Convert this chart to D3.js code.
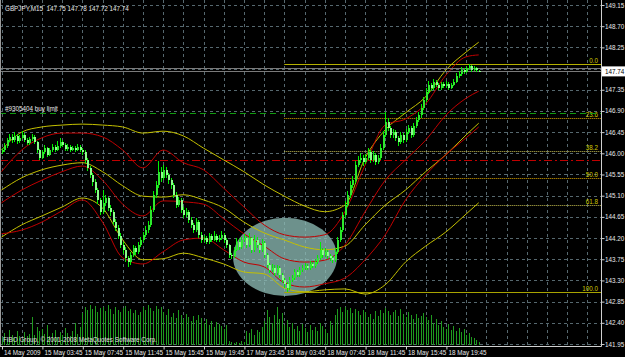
<!DOCTYPE html>
<html><head><meta charset="utf-8">
<script src="https://cdn.jsdelivr.net/npm/d3@7"></script>
<style>
html,body{margin:0;padding:0;background:#000;overflow:hidden;}
svg{display:block;}
text{font-family:"Liberation Sans",Arial,sans-serif;}
</style></head><body>
<svg id="chart" width="625" height="357"></svg>
<script>
// ---------- DATA ----------
const symbolTitle = "GBPJPY,M15  147.75 147.78 147.72 147.74";
const timeIdx = [0,16,32,48,64,80,96,112,128,144,160,176];
const timeLabels = ["14 May 2009","15 May 03:45","15 May 07:45","15 May 11:45","15 May 15:45","15 May 19:45","17 May 23:45","18 May 03:45","18 May 07:45","18 May 11:45","18 May 15:45","18 May 19:45"];
const yTicks = [141.95,142.40,142.85,143.30,143.75,144.20,144.65,145.10,145.55,146.00,146.45,146.90,147.35,147.80,148.25,148.70,149.15];

const open = [
146.03,146.07,146.16,146.28,146.35,146.28,146.37,146.26,146.33,146.39,
146.28,146.22,146.30,146.35,146.24,146.07,145.90,146.03,146.11,145.97,
146.07,146.14,146.07,146.16,146.24,146.18,146.09,146.14,146.07,146.11,
146.07,146.14,146.07,146.03,145.86,145.69,145.54,145.39,145.22,145.01,
144.76,144.95,145.05,144.84,144.76,144.54,144.42,144.25,144.05,143.95,
143.78,143.69,143.84,143.99,143.91,144.05,144.16,144.27,144.37,144.48,
144.80,145.12,145.33,145.61,145.48,145.65,145.54,145.43,145.33,145.12,
144.90,145.01,144.80,144.69,144.76,144.59,144.48,144.37,144.54,144.27,
144.16,144.20,144.12,144.25,144.16,144.25,144.16,144.20,144.27,144.16,
144.05,143.84,143.82,143.95,144.12,144.01,144.16,144.20,144.05,144.20,
143.95,144.16,144.05,143.95,144.10,143.84,143.63,143.52,143.57,143.46,
143.57,143.42,143.31,143.23,143.14,143.31,143.35,143.48,143.42,143.52,
143.57,143.61,143.57,143.65,143.61,143.69,143.78,143.95,143.84,143.91,
143.82,143.78,143.74,143.91,144.16,144.37,144.69,144.90,145.12,145.33,
145.43,145.75,145.86,145.90,145.82,145.90,146.03,145.86,145.97,145.82,
145.90,146.11,146.39,146.67,146.54,146.39,146.45,146.33,146.24,146.39,
146.28,146.45,146.54,146.39,146.58,146.71,146.81,146.96,147.13,147.30,
147.45,147.39,147.52,147.45,147.39,147.47,147.43,147.47,147.39,147.45,
147.52,147.64,147.69,147.77,147.73,147.81,147.85,147.77,147.81,147.75];
const high = [
146.12,146.22,146.33,146.42,146.40,146.45,146.41,146.38,146.47,146.43,
146.32,146.35,146.41,146.39,146.27,146.10,146.08,146.18,146.14,146.12,
146.20,146.18,146.26,146.33,146.29,146.21,146.19,146.17,146.16,146.15,
146.19,146.18,146.12,146.06,145.90,145.74,145.58,145.45,145.26,145.05,
145.22,145.12,145.08,144.90,144.80,144.60,144.48,144.30,144.12,144.00,
143.82,143.90,144.06,144.04,144.12,144.23,144.33,144.45,144.56,144.88,
145.20,145.42,145.84,145.70,145.76,145.70,145.58,145.48,145.38,145.17,
145.08,145.05,144.86,144.83,144.80,144.64,144.52,144.62,144.58,144.32,
144.27,144.25,144.31,144.29,144.34,144.29,144.26,144.36,144.31,144.20,
144.08,143.88,144.02,144.20,144.17,144.23,144.29,144.24,144.31,144.23,
144.27,144.22,144.10,144.18,144.13,143.88,143.68,143.64,143.62,143.63,
143.60,143.46,143.35,143.27,143.37,143.42,143.54,143.53,143.58,143.63,
143.67,143.65,143.71,143.69,143.75,143.85,144.12,143.99,143.98,143.95,
143.86,143.82,143.98,144.22,144.44,144.76,144.98,145.20,145.42,145.52,
145.84,145.95,146.01,145.96,145.99,146.11,146.08,146.04,146.01,145.97,
146.20,146.48,146.87,146.76,146.59,146.52,146.49,146.37,146.45,146.43,
146.51,146.61,146.58,146.64,146.78,146.88,147.04,147.20,147.38,147.54,
147.50,147.58,147.56,147.49,147.52,147.51,147.53,147.51,147.50,147.58,
147.70,147.75,147.84,147.82,147.86,147.90,147.88,147.85,147.83,147.78];
const low = [
145.98,146.03,146.12,146.24,146.22,146.25,146.20,146.22,146.30,146.24,
146.17,146.18,146.26,146.19,146.01,145.86,145.87,145.99,145.92,145.94,
146.03,146.02,146.04,146.12,146.13,146.04,146.05,146.03,146.04,146.03,
146.04,146.02,145.97,145.80,145.63,145.48,145.31,145.15,144.93,144.68,
144.72,144.88,144.78,144.66,144.47,144.35,144.18,143.98,143.86,143.70,
143.58,143.63,143.80,143.85,143.87,144.00,144.11,144.22,144.31,144.44,
144.75,145.06,145.27,145.40,145.43,145.47,145.35,145.25,145.05,144.83,
144.85,144.73,144.62,144.64,144.52,144.41,144.30,144.33,144.20,144.10,
144.11,144.07,144.08,144.11,144.13,144.11,144.12,144.16,144.10,143.99,
143.78,143.76,143.78,143.92,143.95,143.97,144.11,143.99,144.01,143.88,
143.91,143.99,143.88,143.90,143.77,143.56,143.45,143.47,143.39,143.41,
143.36,143.24,143.14,143.06,143.10,143.26,143.31,143.37,143.38,143.48,
143.52,143.52,143.53,143.56,143.57,143.65,143.74,143.77,143.79,143.76,
143.72,143.66,143.70,143.87,144.12,144.33,144.62,144.85,145.06,145.26,
145.38,145.70,145.80,145.74,145.77,145.85,145.80,145.82,145.75,145.77,
145.86,146.06,146.34,146.47,146.32,146.33,146.26,146.16,146.20,146.21,
146.24,146.41,146.33,146.35,146.53,146.66,146.76,146.92,147.08,147.26,
147.33,147.35,147.40,147.34,147.35,147.38,147.39,147.35,147.36,147.42,
147.49,147.60,147.65,147.68,147.70,147.76,147.73,147.74,147.73,147.72];
const close = [
146.07,146.16,146.28,146.35,146.28,146.37,146.26,146.33,146.39,146.28,
146.22,146.30,146.35,146.24,146.07,145.90,146.03,146.11,145.97,146.07,
146.14,146.07,146.16,146.24,146.18,146.09,146.14,146.07,146.11,146.07,
146.14,146.07,146.03,145.86,145.69,145.54,145.39,145.22,145.01,144.76,
144.95,145.05,144.84,144.76,144.54,144.42,144.25,144.05,143.95,143.78,
143.69,143.84,143.99,143.91,144.05,144.16,144.27,144.37,144.48,144.80,
145.12,145.33,145.61,145.48,145.65,145.54,145.43,145.33,145.12,144.90,
145.01,144.80,144.69,144.76,144.59,144.48,144.37,144.54,144.27,144.16,
144.20,144.12,144.25,144.16,144.25,144.16,144.20,144.27,144.16,144.05,
143.84,143.82,143.95,144.12,144.01,144.16,144.20,144.05,144.20,143.95,
144.16,144.05,143.95,144.10,143.84,143.63,143.52,143.57,143.46,143.57,
143.42,143.31,143.23,143.14,143.31,143.35,143.48,143.42,143.52,143.57,
143.61,143.57,143.65,143.61,143.69,143.78,143.95,143.84,143.91,143.82,
143.78,143.74,143.91,144.16,144.37,144.69,144.90,145.12,145.33,145.43,
145.75,145.86,145.90,145.82,145.90,146.03,145.86,145.97,145.82,145.90,
146.11,146.39,146.67,146.54,146.39,146.45,146.33,146.24,146.39,146.28,
146.45,146.54,146.39,146.58,146.71,146.81,146.96,147.13,147.30,147.45,
147.39,147.52,147.45,147.39,147.47,147.43,147.47,147.39,147.45,147.52,
147.64,147.69,147.77,147.73,147.81,147.85,147.77,147.81,147.77,147.74];
const volume = [
200,300,150,375,250,175,350,225,125,325,225,275,700,250,450,350,
400,275,500,225,300,375,200,325,250,425,300,225,350,550,275,450,
800,950,875,1000,900,975,825,925,950,850,1000,900,775,950,875,825,
925,975,850,900,800,875,750,825,950,875,1000,925,850,975,900,950,
825,750,900,700,800,675,875,750,650,775,700,600,725,625,750,675,
550,650,500,600,450,575,525,475,400,500,100,75,
50,75,50,100,75,350,300,400,250,375,325,450,
600,875,700,550,750,950,650,800,500,625,450,550,400,475,350,525,
425,325,500,375,450,350,550,475,400,300,600,500,750,900,950,825,
950,875,925,800,900,850,750,875,825,700,775,650,850,725,875,800,
925,850,750,825,875,725,900,775,700,825,750,650,775,675,725,800,
700,625,750,550,650,500,600,450,400,525,375,475,350,425,325,400,
250,300,200,175,125,75];

// Two Bollinger-style envelopes, sampled every 8 bars
const bandIdx = [0,8,16,24,32,40,48,56,64,72,80,88,96,104,112,120,128,136,144,152,160,168,176,184,189];
const yellowUpper = [146.07,146.45,146.56,146.60,146.62,146.60,146.56,146.43,146.47,146.37,146.11,145.86,145.61,145.33,145.09,144.88,144.76,144.90,145.90,146.50,146.86,147.20,147.77,148.15,148.36];
const yellowMid   = [145.22,145.48,145.65,145.75,145.80,145.61,145.31,145.09,145.07,145.12,145.01,144.84,144.54,144.31,144.16,144.01,143.95,144.03,144.48,144.90,145.22,145.61,145.97,146.39,146.64];
const yellowLower = [144.22,144.48,144.67,144.86,145.05,144.84,144.16,143.74,143.76,143.88,143.78,143.65,143.48,143.44,143.14,143.06,143.10,143.12,143.01,143.21,143.69,144.03,144.33,144.71,144.95];
const redUpper    = [145.61,146.07,146.33,146.43,146.43,146.35,146.07,145.69,146.07,145.80,145.65,145.26,144.86,144.48,144.27,144.22,144.27,144.76,145.75,146.60,146.73,147.05,147.66,148.05,148.09];
const redMid      = [144.95,145.22,145.43,145.61,145.73,145.43,144.92,144.67,144.99,144.97,144.92,144.61,144.29,144.03,143.76,143.69,143.73,144.05,144.76,145.43,145.86,146.28,146.81,147.17,147.32];
const redLower    = [144.29,144.37,144.54,144.78,145.01,144.54,143.78,143.65,143.91,144.16,144.20,143.95,143.69,143.59,143.25,143.16,143.23,143.35,143.74,144.27,145.01,145.54,145.97,146.33,146.56];

// Fibonacci retracement
const fibLevels = [0, 23.6, 38.2, 50, 61.8, 100];
const fibLabels = ["0.0","23.6","38.2","50.0","61.8","100.0"];
const fibHigh = 147.90, fibLow = 143.06, fibStartIdx = 112;

// Pending order lines
const buyLimitPrice = 146.86, buyLimitLabel = "#9305404 buy limit";
const stopPrice = 145.86;
const bidPrice = 147.74, askPrice = 147.81;

// Ellipse object (two anchor points: bar index / price)
const ellipseIdx = [91.7, 132.9];
const ellipsePrice = [144.63, 142.97];

const copyright = "FIBO Group, \u00A9 2001-2008 MetaQuotes Software Corp.";

// ---------- DRAW ----------
const svg = d3.select("#chart");
const PR = 601, PB = 346;
const FS = 6.3;
svg.append("rect").attr("width",625).attr("height",357).attr("fill","#000");

const x = d3.scaleLinear().domain([0,1]).range([1.5, 4.025]);
const y = d3.scaleLinear().domain([141.95,149.15]).range([344,5]);
const yVol = d3.scaleLinear().domain([0,1000]).range([345,305]);

svg.append("defs").append("clipPath").attr("id","clip")
  .append("rect").attr("x",0).attr("y",0).attr("width",PR).attr("height",PB);
const plot = svg.append("g").attr("clip-path","url(#clip)");

// grid
const gridCol = "#56686f";
plot.append("g").selectAll("line").data(yTicks).join("line")
  .attr("x1",0).attr("x2",PR).attr("y1",d=>Math.round(y(d))+0.5).attr("y2",d=>Math.round(y(d))+0.5)
  .attr("stroke",gridCol).attr("stroke-dasharray","3,3");
const vGrid = d3.range(0, 240, 8);
plot.append("g").selectAll("line").data(vGrid).join("line")
  .attr("x1",d=>Math.round(x(d))+0.5).attr("x2",d=>Math.round(x(d))+0.5).attr("y1",0).attr("y2",PB)
  .attr("stroke",gridCol).attr("stroke-dasharray","3,3");

// ellipse (background object)
const ex1 = x(ellipseIdx[0]), ex2 = x(ellipseIdx[1]);
const ey1 = y(ellipsePrice[0]), ey2 = y(ellipsePrice[1]);
plot.append("ellipse")
  .attr("cx",(ex1+ex2)/2).attr("cy",(ey1+ey2)/2)
  .attr("rx",Math.abs(ex2-ex1)/2).attr("ry",Math.abs(ey2-ey1)/2)
  .attr("fill","#8cbab4").attr("fill-opacity",0.78);

// volumes
plot.append("g").selectAll("line").data(volume).join("line")
  .attr("x1",(d,i)=>Math.round(x(i))+0.5).attr("x2",(d,i)=>Math.round(x(i))+0.5)
  .attr("y1",yVol(0)).attr("y2",d=>yVol(d))
  .attr("stroke","#1f9a1f").attr("stroke-width",1);

// fib lines
const fibPrice = L => fibHigh - (fibHigh - fibLow) * L / 100;
const fibStroke = ["#b4b000","#e0a800","#c8c050","#e0a800","#c8c050","#a8a400"];
const fibDash = [null,"1,1","1,1","1,1","1,1",null];
const fg = plot.append("g");
fibLevels.forEach((L,k)=>{
  const yy = Math.round(y(fibPrice(L)))+0.5;
  fg.append("line").attr("x1",x(fibStartIdx)).attr("x2",PR).attr("y1",yy).attr("y2",yy)
    .attr("stroke",fibStroke[k]).attr("stroke-dasharray",fibDash[k]);
  fg.append("text").attr("x",PR-3).attr("y",yy-2).attr("text-anchor","end")
    .attr("font-size",FS).attr("fill","#d0c800").text(fibLabels[k]);
});

// order lines
const yb = Math.round(y(buyLimitPrice))+0.5;
plot.append("line").attr("x1",0).attr("x2",PR).attr("y1",yb).attr("y2",yb)
  .attr("stroke","#109a10").attr("stroke-dasharray","6,4");
plot.append("text").attr("x",5).attr("y",yb-3).attr("font-size",FS).attr("fill","#e8e8e8").text(buyLimitLabel);
const ys = Math.round(y(stopPrice))+0.5;
plot.append("line").attr("x1",0).attr("x2",PR).attr("y1",ys).attr("y2",ys)
  .attr("stroke","#c00000").attr("stroke-width",1.2).attr("stroke-dasharray","8,3,2,3");

// bands
const bandLine = d3.line().x((d,i)=>x(bandIdx[i])).y(d=>y(d)).curve(d3.curveMonotoneX);
[[yellowUpper,"#c4c000"],[yellowMid,"#c4c000"],[yellowLower,"#c4c000"],
 [redUpper,"#c00000"],[redMid,"#c00000"],[redLower,"#c00000"]].forEach(([arr,c])=>{
  plot.append("path").attr("d",bandLine(arr)).attr("fill","none").attr("stroke",c).attr("stroke-width",1);
});

// price lines
[askPrice,bidPrice].forEach(p=>{
  const yy = Math.round(y(p))+0.5;
  plot.append("line").attr("x1",0).attr("x2",PR).attr("y1",yy).attr("y2",yy).attr("stroke","#7a7a7a");
});

// candles
const cg = plot.append("g").attr("shape-rendering","crispEdges");
close.forEach((c,i)=>{
  const xi = Math.round(x(i));
  const o = open[i];
  cg.append("line").attr("x1",xi+0.5).attr("x2",xi+0.5)
    .attr("y1",y(high[i])).attr("y2",y(low[i])).attr("stroke","#00f000");
  const top = y(Math.max(o,c)), bot = y(Math.min(o,c));
  cg.append("rect").attr("x",xi-0.5).attr("width",2)
    .attr("y",top).attr("height",Math.max(1,bot-top))
    .attr("fill", c>=o ? "#2ee82e" : "#8cff8c");
});

// texts
svg.append("text").attr("x",5).attr("y",11).attr("font-size",FS).attr("fill","#e8e8e8")
  .attr("xml:space","preserve").text(symbolTitle);
svg.append("text").attr("x",3).attr("y",342).attr("font-size",FS).attr("fill","#e0e0e0").text(copyright);

// frame
svg.append("line").attr("x1",0.5).attr("x2",0.5).attr("y1",0).attr("y2",PB).attr("stroke","#9a9a9a");
svg.append("line").attr("x1",PR+0.5).attr("x2",PR+0.5).attr("y1",0).attr("y2",PB+0.5).attr("stroke","#d0d0d0");
svg.append("line").attr("x1",0).attr("x2",PR+0.5).attr("y1",PB+0.5).attr("y2",PB+0.5).attr("stroke","#d0d0d0");

// axes
const xAxis = d3.axisBottom(x).tickValues(timeIdx).tickFormat((d,i)=>timeLabels[i]).tickSize(3).tickSizeOuter(0);
const gx = svg.append("g").attr("transform",`translate(0,${PB+0.5})`).call(xAxis);
gx.select(".domain").remove();
gx.selectAll(".tick line").attr("stroke","#d0d0d0").attr("transform","translate(0.5,0)");
gx.selectAll(".tick text").attr("text-anchor","start").attr("x",2).attr("y",4)
  .attr("font-size",FS).attr("font-family","Liberation Sans, Arial, sans-serif").attr("fill","#e8e8e8");

// tick labels hidden behind the bid-price box are not drawn (as in the terminal)
const yBid = y(bidPrice);
const yAxis = d3.axisRight(y).tickValues(yTicks)
  .tickFormat(d => Math.abs(y(d) - yBid) < 9 ? "" : d.toFixed(2)).tickSize(3).tickSizeOuter(0);
const gy = svg.append("g").attr("transform",`translate(${PR+0.5},0)`).call(yAxis);
gy.select(".domain").remove();
gy.selectAll(".tick line").attr("stroke","#d0d0d0");
gy.selectAll(".tick text").attr("x",3.5).attr("font-size",FS)
  .attr("font-family","Liberation Sans, Arial, sans-serif").attr("fill","#e8e8e8");

// bid label
svg.append("rect").attr("x",PR+1).attr("y",yBid-5).attr("width",24).attr("height",10).attr("fill","#ffffff");
svg.append("text").attr("x",PR+4).attr("y",yBid+2.3).attr("font-size",FS).attr("fill","#000").text(bidPrice.toFixed(2));
</script>
</body></html>
